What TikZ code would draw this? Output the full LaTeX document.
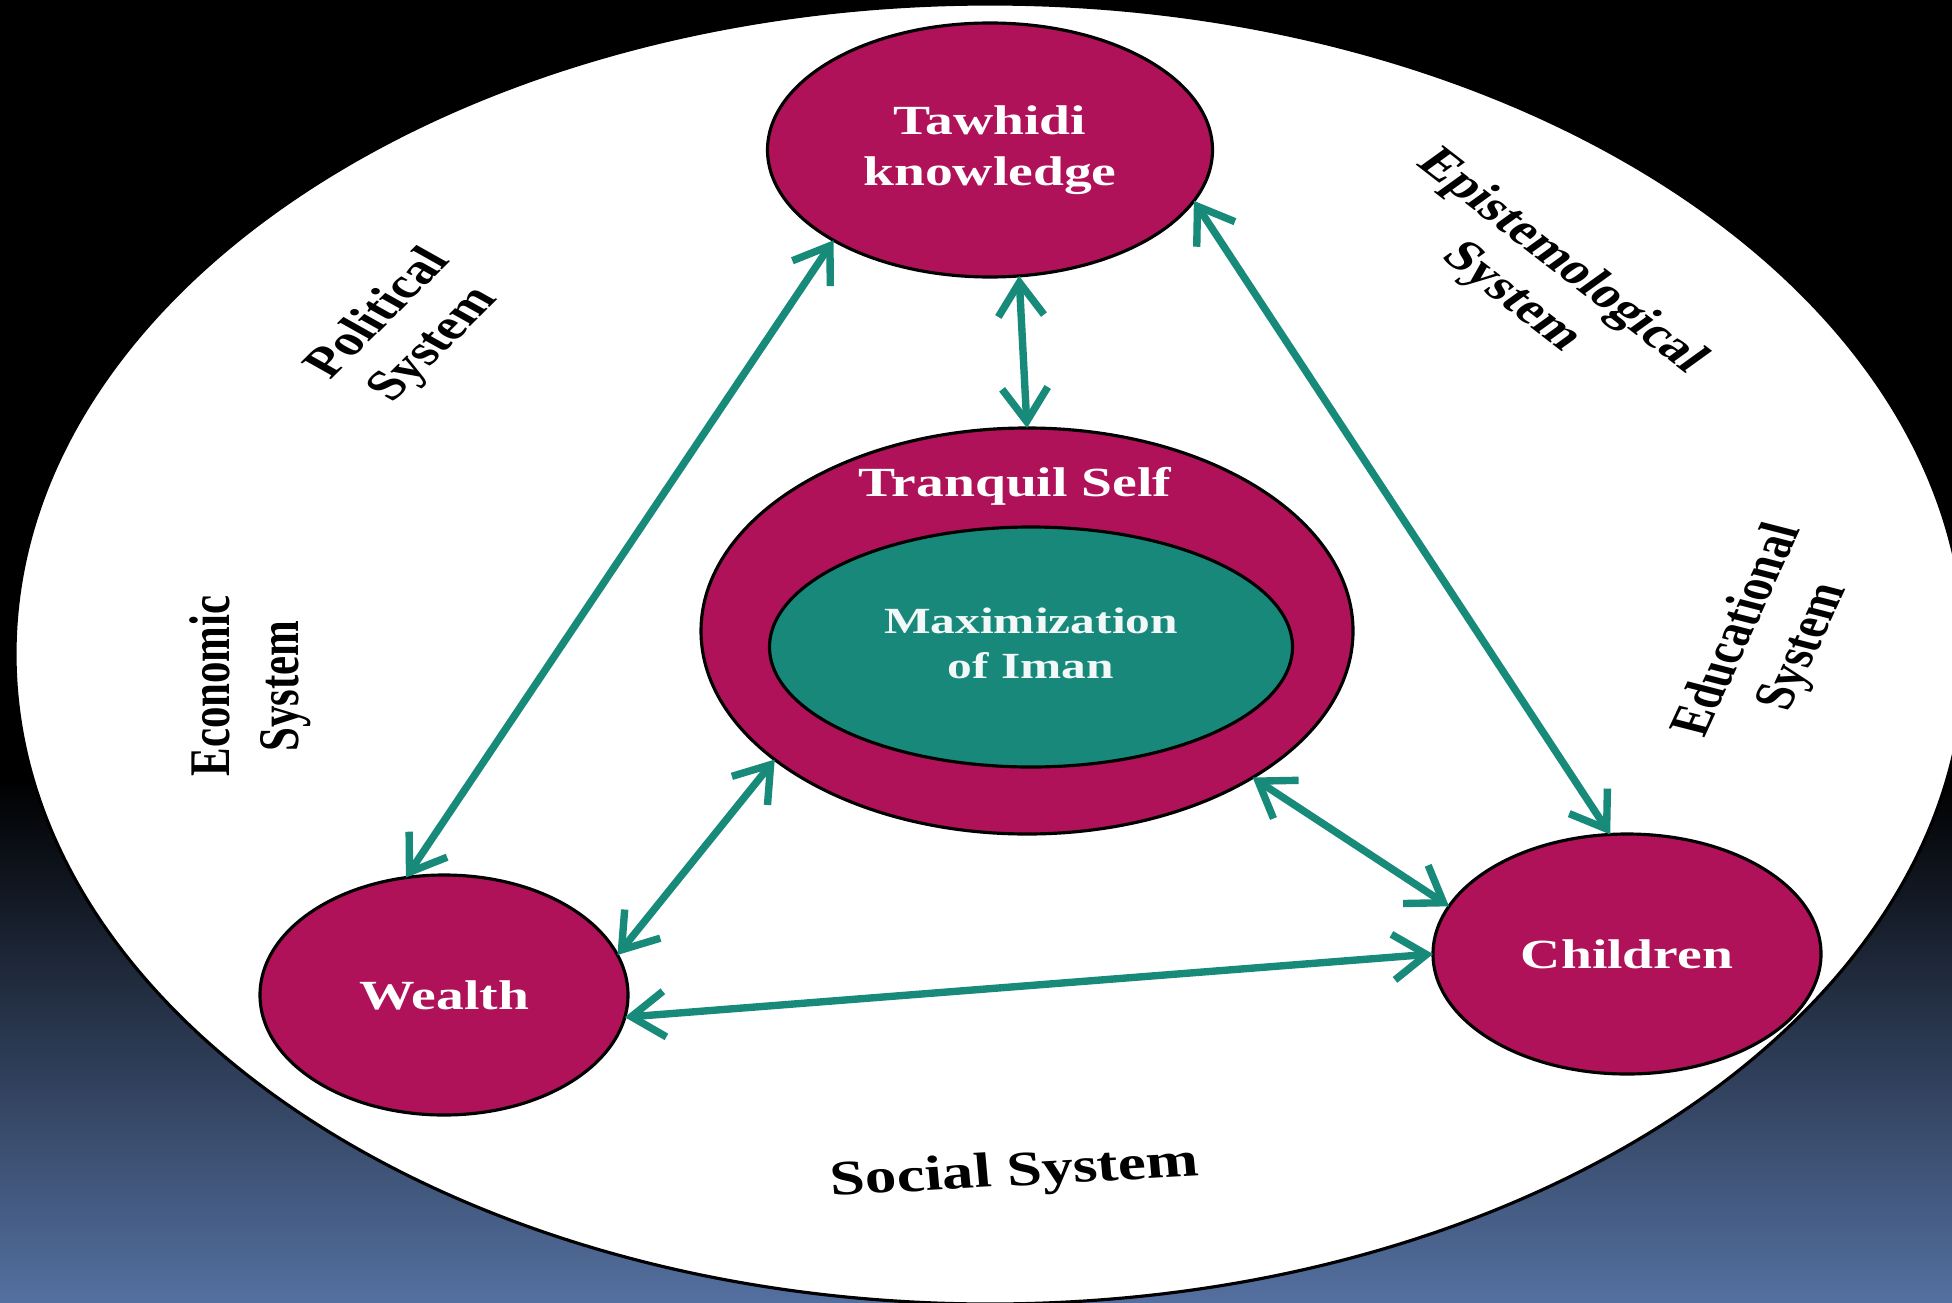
\documentclass[tikz,border=0pt]{standalone}
\usepackage{fontspec}
\setmainfont{Liberation Serif}
\usepackage{graphicx}
\usetikzlibrary{shapes.geometric,arrows.meta}

\definecolor{plum}{HTML}{B01259}
\definecolor{sea}{HTML}{178A7A}
\definecolor{seafill}{HTML}{17887A}
\definecolor{dusk}{HTML}{5470A0}

% two centred lines
\newcommand\twol[2]{\begin{tabular}{@{}c@{}}#1\\#2\end{tabular}}
% horizontally widened text
\newcommand\wide[1]{\scalebox{1.34}[1]{#1}}

\begin{document}
\begin{tikzpicture}[
  blob/.style={ellipse, draw=black, line width=0.9pt, fill=plum, inner sep=0pt,
    outer sep=0pt, text=white, font=\fontsize{11.8}{14.5}\selectfont\bfseries},
  syslabel/.style={inner sep=0pt, text=black, font=\fontsize{12.2}{14.6}\selectfont\bfseries},
  barb/.tip={Straight Barb[length=9.5pt,width=13pt]},
  link/.style={draw=sea, line width=2.1pt, line cap=round, barb-barb}
]
\useasboundingbox (0,0) rectangle (19.52,-13.02);

% backdrop and the large white field
\begin{scope}
  \clip (0,0) rectangle (19.52,-13.02);
  \fill[black] (0,0) rectangle (19.52,-13.02);
  \shade[top color=black, bottom color=dusk] (0,-7.8) rectangle (19.52,-13.02);
  \draw[fill=white, line width=0.9pt] (9.90,-6.54) ellipse [x radius=9.75, y radius=6.50];
\end{scope}

% surrounding systems
\node[syslabel] (pol) at (4.07,-3.30) {\wide{\rotatebox{53}{\twol{Political}{System}}}};
\node[syslabel] (epi) at (15.36,-2.80) {\wide{\rotatebox{-46}{\twol{Epistemological}{System}}}};
\node[syslabel] (edu) at (17.72,-6.39) {\wide{\rotatebox{71}{\twol{Educational}{System}}}};
\node[syslabel] (eco) at (2.50,-6.86) {\wide{\rotatebox{90}{\twol{Economic}{System}}}};
\node[inner sep=0pt, font=\fontsize{14}{16}\selectfont\bfseries] (soc) at (10.15,-11.74)
  {\scalebox{1.28}[1]{\rotatebox{4}{Social System}}};

% core nodes
\node[blob, minimum width=4.45cm, minimum height=2.54cm] (taw) at (9.90,-1.50)
  {\wide{\twol{Tawhidi}{knowledge}}};
\node[blob, minimum width=6.52cm, minimum height=4.06cm] (tra) at (10.27,-6.31) {};
\node[blob, fill=seafill, text=white!94!sea, minimum width=5.23cm, minimum height=2.40cm,
  font=\fontsize{10.5}{12.8}\selectfont\bfseries] (iman) at (10.31,-6.47)
  {\wide{\twol{Maximization}{of Iman}}};
\node[inner sep=0pt, text=white, font=\fontsize{11.8}{14.5}\selectfont\bfseries] (tralbl)
  at (10.15,-4.86) {\wide{Tranquil Self}};
\node[blob, minimum width=3.68cm, minimum height=2.40cm] (wea) at (4.44,-9.95) {\wide{Wealth}};
\node[blob, minimum width=3.88cm, minimum height=2.40cm] (chi) at (16.27,-9.54) {\wide{Children}};

% links
\draw[link] (taw.210.7) -- (wea.108.9);
\draw[link] (taw.283.6) -- (tra.90.8);
\draw[link] (taw.346) -- (chi.98);
\draw[link] (tra.207.9) -- (wea.13.4);
\draw[link] (tra.327.9) -- (chi.165.5);
\draw[link] (wea.353.8) -- (chi.180);
\end{tikzpicture}
\end{document}
